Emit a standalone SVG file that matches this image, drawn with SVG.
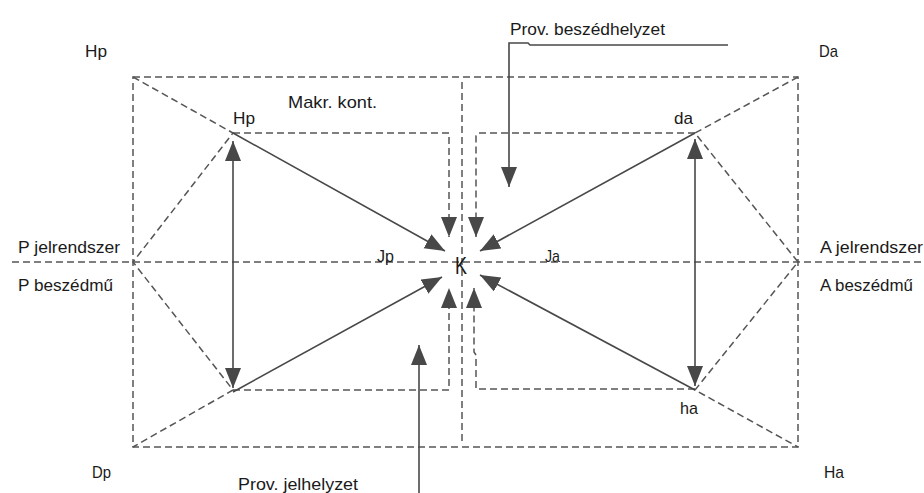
<svg xmlns="http://www.w3.org/2000/svg" width="924" height="493" viewBox="0 0 924 493">
<style>
.d{fill:none;stroke:#555;stroke-width:1.5;stroke-dasharray:7,4}
.s{fill:none;stroke:#484848;stroke-width:1.6}
.a{marker-end:url(#ah)}
.b{marker-start:url(#ahs);marker-end:url(#ah)}
text{font-family:"Liberation Sans",Arial,sans-serif;font-size:17px;fill:#1a1a1a}
</style>
<defs>
<marker id="ah" markerUnits="userSpaceOnUse" markerWidth="22" markerHeight="18" refX="20" refY="8" orient="auto">
<path d="M0,0 L20,8 L0,16 Z" fill="#484848"/>
</marker>
<marker id="ahs" markerUnits="userSpaceOnUse" markerWidth="22" markerHeight="18" refX="0" refY="8" orient="auto">
<path d="M20,0 L0,8 L20,16 Z" fill="#484848"/>
</marker>
</defs>
<g id="connectors">
<rect class="d" x="133" y="77" width="665" height="370"/>
<path class="d" d="M12,262 H924"/>
<path class="d" d="M462,82 V443"/>
<path class="d" d="M133,77 L233,133 L133,262 L233,390 L133,447"/>
<path class="d" d="M798,77 L695,133 L798,262 L695,390 L798,447"/>
<path class="d a" d="M233,133 H449 V237"/>
<path class="d a" d="M233,390 H449 V288"/>
<path class="d a" d="M695,133 H478 L476,136 V237"/>
<path class="d a" d="M695,389 H476 V355 L474,352 V288"/>
<path class="s a" d="M233,133 L445,251"/>
<path class="s a" d="M233,392 L442,277"/>
<path class="s a" d="M695,133 L480,251"/>
<path class="s a" d="M695,390 L480,275"/>
<path class="s b" d="M233,141 V388"/>
<path class="s b" d="M695,139 V386"/>
<path class="s a" d="M728,45 H530 L528,43 H509 V187"/>
<path class="s a" d="M419,493 V345"/>
</g>
<g id="Hp-outer"><text x="85" y="57" textLength="22" lengthAdjust="spacingAndGlyphs">Hp</text></g>
<g id="Da-outer"><text x="819" y="57" textLength="19" lengthAdjust="spacingAndGlyphs">Da</text></g>
<g id="Dp-outer"><text x="92" y="478" textLength="19" lengthAdjust="spacingAndGlyphs">Dp</text></g>
<g id="Ha-outer"><text x="824" y="478" textLength="20" lengthAdjust="spacingAndGlyphs">Ha</text></g>
<g id="prov-beszed"><text x="510" y="35" textLength="155" lengthAdjust="spacingAndGlyphs">Prov. beszédhelyzet</text></g>
<g id="prov-jel"><text x="238" y="490" textLength="120" lengthAdjust="spacingAndGlyphs">Prov. jelhelyzet</text></g>
<g id="makr"><text x="288" y="108" textLength="89" lengthAdjust="spacingAndGlyphs">Makr. kont.</text></g>
<g id="Hp-inner"><text x="233" y="124" textLength="22" lengthAdjust="spacingAndGlyphs">Hp</text></g>
<g id="da"><text x="674" y="124" textLength="19" lengthAdjust="spacingAndGlyphs">da</text></g>
<g id="ha"><text x="680" y="414" textLength="18" lengthAdjust="spacingAndGlyphs">ha</text></g>
<g id="p-jel"><text x="18" y="253" textLength="102" lengthAdjust="spacingAndGlyphs">P jelrendszer</text></g>
<g id="p-besz"><text x="18" y="291" textLength="95" lengthAdjust="spacingAndGlyphs">P beszédmű</text></g>
<g id="a-jel"><text x="820" y="253" textLength="103" lengthAdjust="spacingAndGlyphs">A jelrendszer</text></g>
<g id="a-besz"><text x="820" y="291" textLength="93" lengthAdjust="spacingAndGlyphs">A beszédmű</text></g>
<g id="Jp"><text x="377" y="262" textLength="17" lengthAdjust="spacingAndGlyphs">Jp</text></g>
<g id="Ja"><text x="545" y="262" textLength="15" lengthAdjust="spacingAndGlyphs">Ja</text></g>
<g id="K"><text x="455" y="274" textLength="12" lengthAdjust="spacingAndGlyphs" style="font-size:24px">K</text></g>
</svg>
